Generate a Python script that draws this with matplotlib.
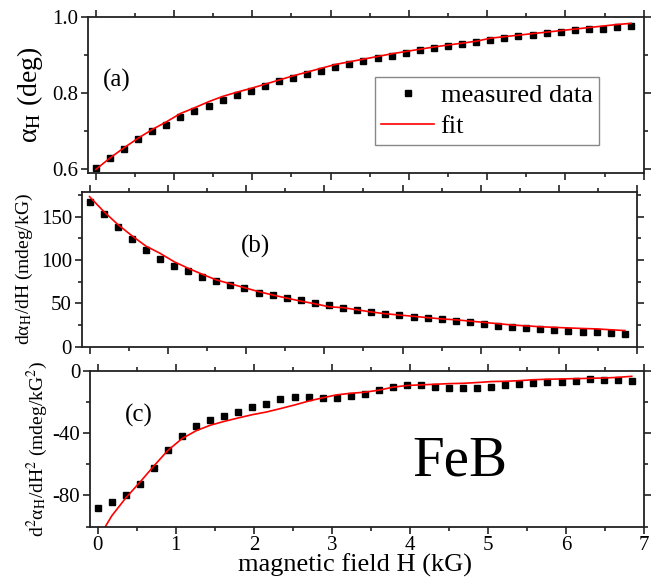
import matplotlib
matplotlib.use("Agg")
import matplotlib.pyplot as plt
from matplotlib.ticker import MultipleLocator, FormatStrFormatter

plt.rcParams['font.family'] = ['Liberation Serif', 'DejaVu Serif']
plt.rcParams['mathtext.fontset'] = 'stix'
plt.rcParams['axes.unicode_minus'] = False

# magnetic field (kG), same grid for all three panels
field = [0.00, 0.18, 0.36, 0.54, 0.72, 0.90, 1.08, 1.26, 1.44, 1.62,
         1.80, 1.98, 2.16, 2.34, 2.52, 2.70, 2.88, 3.06, 3.24, 3.42,
         3.60, 3.78, 3.96, 4.14, 4.32, 4.50, 4.68, 4.86, 5.04, 5.22,
         5.40, 5.58, 5.76, 5.94, 6.12, 6.30, 6.48, 6.66, 6.84]

# (a) alpha_H (deg)
alpha_meas = [0.603, 0.629, 0.653, 0.679, 0.701, 0.718, 0.737, 0.753, 0.767, 0.782,
              0.796, 0.807, 0.819, 0.832, 0.841, 0.851, 0.859, 0.869, 0.876, 0.885,
              0.892, 0.899, 0.905, 0.913, 0.919, 0.925, 0.931, 0.936, 0.940, 0.945,
              0.951, 0.954, 0.959, 0.962, 0.966, 0.968, 0.970, 0.974, 0.976]
alpha_fit = [0.600, 0.630, 0.657, 0.682, 0.705, 0.725, 0.747, 0.762, 0.778, 0.792,
             0.803, 0.813, 0.824, 0.835, 0.846, 0.856, 0.866, 0.876, 0.883, 0.890,
             0.897, 0.904, 0.910, 0.916, 0.922, 0.927, 0.932, 0.937, 0.945, 0.949,
             0.953, 0.957, 0.961, 0.965, 0.969, 0.973, 0.977, 0.981, 0.984]

# (b) d alpha_H / dH (mdeg/kG)
d1_meas = [167.3, 152.8, 137.8, 124.3, 111.6, 101.2, 93.5, 87.3, 80.8, 75.8,
           71.2, 67.3, 62.3, 59.3, 56.5, 53.9, 50.0, 48.1, 45.0, 42.3,
           39.7, 37.4, 36.2, 34.3, 32.7, 31.6, 30.0, 28.1, 25.8, 24.2,
           22.7, 21.9, 20.4, 19.6, 18.1, 17.0, 17.0, 15.4, 14.6]
d1_fit = [173.0, 156.0, 141.0, 128.0, 116.0, 107.7, 98.0, 90.4, 83.5, 77.0,
          72.5, 68.0, 63.5, 59.6, 56.0, 52.5, 49.5, 46.0, 45.0, 42.5,
          40.0, 38.0, 36.5, 35.0, 33.5, 32.0, 31.0, 29.5, 28.0, 26.5,
          25.0, 24.0, 23.0, 22.3, 21.6, 21.0, 20.5, 19.5, 18.6]

# (c) d2 alpha_H / dH2 (mdeg/kG^2)
d2_meas = [-88.1, -84.3, -80.0, -72.4, -62.2, -51.0, -42.0, -35.7, -31.4, -28.9,
           -26.5, -23.6, -21.2, -18.2, -17.0, -17.0, -17.2, -17.2, -16.1, -14.8,
           -12.3, -10.6, -9.1, -9.5, -10.4, -10.8, -10.8, -10.8, -10.2, -9.1,
           -8.7, -7.6, -7.0, -7.0, -6.4, -5.5, -5.7, -5.7, -6.4]
d2_fit = [-108.0, -93.0, -81.5, -71.5, -61.0, -51.0, -43.5, -38.5, -35.0, -32.5,
          -30.3, -28.2, -26.5, -24.3, -22.0, -19.5, -17.4, -15.5, -14.5, -13.8,
          -12.5, -10.6, -9.5, -9.1, -8.7, -8.3, -8.1, -7.6, -7.0, -6.8,
          -6.4, -5.8, -5.5, -5.3, -5.1, -4.9, -4.7, -4.3, -3.6]

fig = plt.figure(figsize=(6.65, 5.78), dpi=100)
ax_a = fig.add_axes([0.1323, 0.7002, 0.8356, 0.2699])
ax_b = fig.add_axes([0.1229, 0.4002, 0.8355, 0.2671])
ax_c = fig.add_axes([0.1353, 0.0888, 0.8335, 0.2699])

edge = '#222222'

def style(ax, ymaj, ymin, show_x):
    ax.set_xlim(-0.1, 7.0)
    ax.xaxis.set_major_locator(MultipleLocator(1))
    ax.xaxis.set_minor_locator(MultipleLocator(0.5))
    ax.yaxis.set_major_locator(MultipleLocator(ymaj))
    ax.yaxis.set_minor_locator(MultipleLocator(ymin))
    ax.tick_params(which='both', direction='out', top=True, right=True,
                   width=1.2, color=edge, labelsize=15, pad=2)
    ax.tick_params(which='major', length=5)
    ax.tick_params(which='minor', length=3)
    if not show_x:
        ax.tick_params(labelbottom=False)
    for s in ax.spines.values():
        s.set_linewidth(1.3)
        s.set_color(edge)

# panel (a)
ax_a.plot(field, alpha_meas, 's', color='black', markersize=4.7, label='measured data')
ax_a.plot(field, alpha_fit, '-', color='red', lw=1.2, label='fit')
style(ax_a, 0.2, 0.1, False)
ax_a.set_ylim(0.59, 1.0)
ax_a.yaxis.set_major_formatter(FormatStrFormatter('%.1f'))
ax_a.set_ylabel('α$_\\mathrm{H}$ (deg)', fontsize=20, labelpad=5)
ax_a.text(0.27, 0.835, '(a)', fontsize=18, ha='center', va='center')
leg = ax_a.legend(loc='upper left', bbox_to_anchor=(0.516, 0.617), borderaxespad=0,
                  fontsize=19, numpoints=1, handlelength=2.0, handletextpad=0.25,
                  labelspacing=0.3, borderpad=0.25, fancybox=False, framealpha=1)
leg.get_frame().set_edgecolor('#888888')
leg.get_frame().set_linewidth(1.0)

# panel (b)
ax_b.plot(field, d1_meas, 's', color='black', markersize=4.7)
ax_b.plot(field, d1_fit, '-', color='red', lw=1.2)
style(ax_b, 50, 25, False)
ax_b.set_ylim(0, 178)
ax_b.set_ylabel('dα$_\\mathrm{H}$/dH (mdeg/kG)', fontsize=14, labelpad=4)
ax_b.text(2.12, 116, '(b)', fontsize=18, ha='center', va='center')

# panel (c)
ax_c.plot(field, d2_meas, 's', color='black', markersize=4.7)
ax_c.plot(field, d2_fit, '-', color='red', lw=1.2)
style(ax_c, 40, 20, True)
ax_c.set_ylim(-100, 0)
ax_c.set_ylabel('d$^2$α$_\\mathrm{H}$/dH$^2$ (mdeg/kG$^2$)', fontsize=14, labelpad=2)
ax_c.text(0.52, -29, '(c)', fontsize=18, ha='center', va='center')
ax_c.text(4.64, -58, 'FeB', fontsize=41, ha='center', va='center')

fig.text(355 / 665, 1 - 572 / 578, 'magnetic field H (kG)', fontsize=19,
         ha='center', va='baseline')

fig.savefig('out.png', dpi=100)
